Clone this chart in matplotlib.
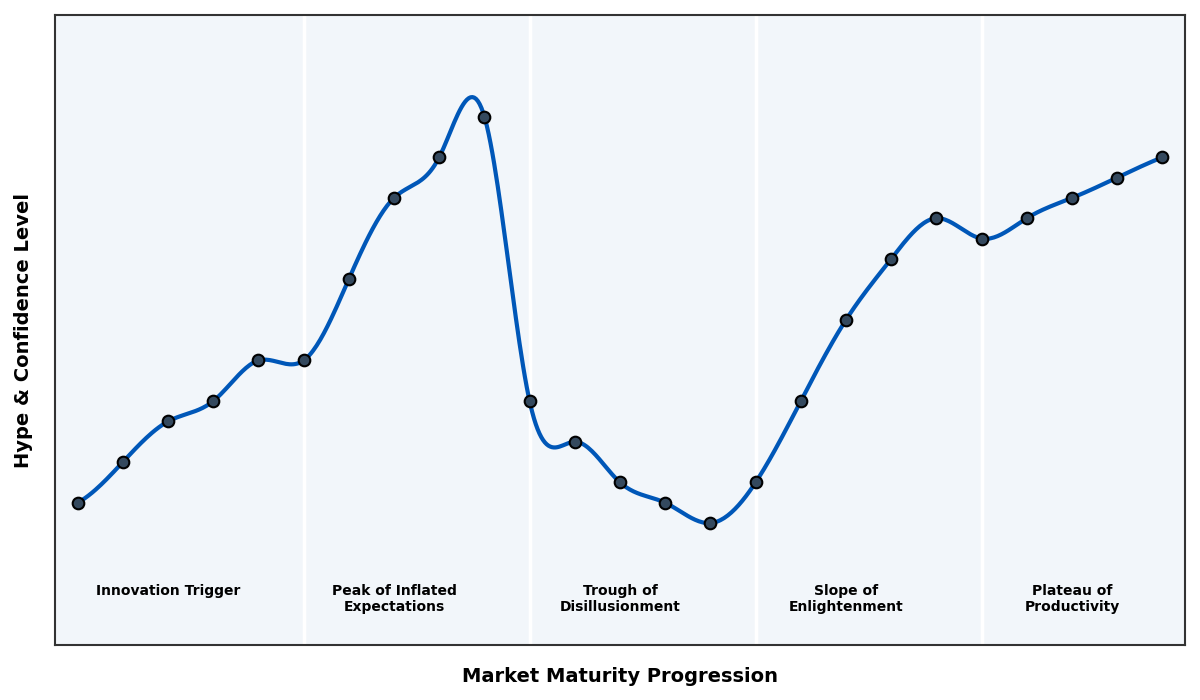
import numpy as np
import matplotlib
matplotlib.use("Agg")
import matplotlib.pyplot as plt

# Data
x_vals = list(range(25))
hype = [15, 17, 19, 20, 22, 22, 26, 30, 32, 34, 20, 18, 16, 15, 14,
        16, 20, 24, 27, 29, 28, 29, 30, 31, 32]
phase_bounds = [5, 10, 15, 20]
phase_centers = [2, 7, 12, 17, 22]
phase_labels = ["Innovation Trigger", "Peak of Inflated\nExpectations",
                "Trough of\nDisillusionment", "Slope of\nEnlightenment",
                "Plateau of\nProductivity"]


def not_a_knot_spline(x, y, xs):
    x = np.asarray(x, float)
    y = np.asarray(y, float)
    n = len(x)
    h = np.diff(x)
    A = np.zeros((n, n))
    b = np.zeros(n)
    for i in range(1, n - 1):
        A[i, i - 1] = h[i - 1]
        A[i, i] = 2 * (h[i - 1] + h[i])
        A[i, i + 1] = h[i]
        b[i] = 6 * ((y[i + 1] - y[i]) / h[i] - (y[i] - y[i - 1]) / h[i - 1])
    A[0, 0] = h[1]
    A[0, 1] = -(h[0] + h[1])
    A[0, 2] = h[0]
    A[-1, -3] = h[-1]
    A[-1, -2] = -(h[-2] + h[-1])
    A[-1, -1] = h[-2]
    M = np.linalg.solve(A, b)
    idx = np.clip(np.searchsorted(x, xs) - 1, 0, n - 2)
    x0, x1 = x[idx], x[idx + 1]
    hh = x1 - x0
    a = (x1 - xs) / hh
    c = (xs - x0) / hh
    return (M[idx] * (x1 - xs) ** 3 + M[idx + 1] * (xs - x0) ** 3) / (6 * hh) \
        + (y[idx] - M[idx] * hh ** 2 / 6) * a + (y[idx + 1] - M[idx + 1] * hh ** 2 / 6) * c


fig = plt.figure(figsize=(12, 7), dpi=100)
ax = fig.add_axes([55 / 1200, 55 / 700, 1130 / 1200, 630 / 700])
ax.set_facecolor("#f2f6fa")

for xb in phase_bounds:
    ax.axvline(xb, color="white", lw=2.5, zorder=1)

xs = np.linspace(min(x_vals), max(x_vals), 600)
ys = not_a_knot_spline(x_vals, hype, xs)
ax.plot(xs, ys, color="#0057b8", lw=3, zorder=2)
ax.scatter(x_vals, hype, s=70, color="#34495e", edgecolor="black", lw=1.5, zorder=3)

for xc, lab in zip(phase_centers, phase_labels):
    ax.text(xc, 11, lab, ha="center", va="top", fontsize=10, fontweight="bold",
            color="black", linespacing=1.15)

ax.set_xlim(-0.5, 24.5)
ax.set_ylim(8, 39)
ax.set_xticks([])
ax.set_yticks([])
for s in ax.spines.values():
    s.set_color("#333333")
    s.set_linewidth(1.5)

ax.set_xlabel("Market Maturity Progression", fontsize=14, fontweight="bold", labelpad=15.5)
ax.set_ylabel("Hype & Confidence Level", fontsize=14, fontweight="bold", labelpad=16)

fig.savefig("out.png", dpi=100)
